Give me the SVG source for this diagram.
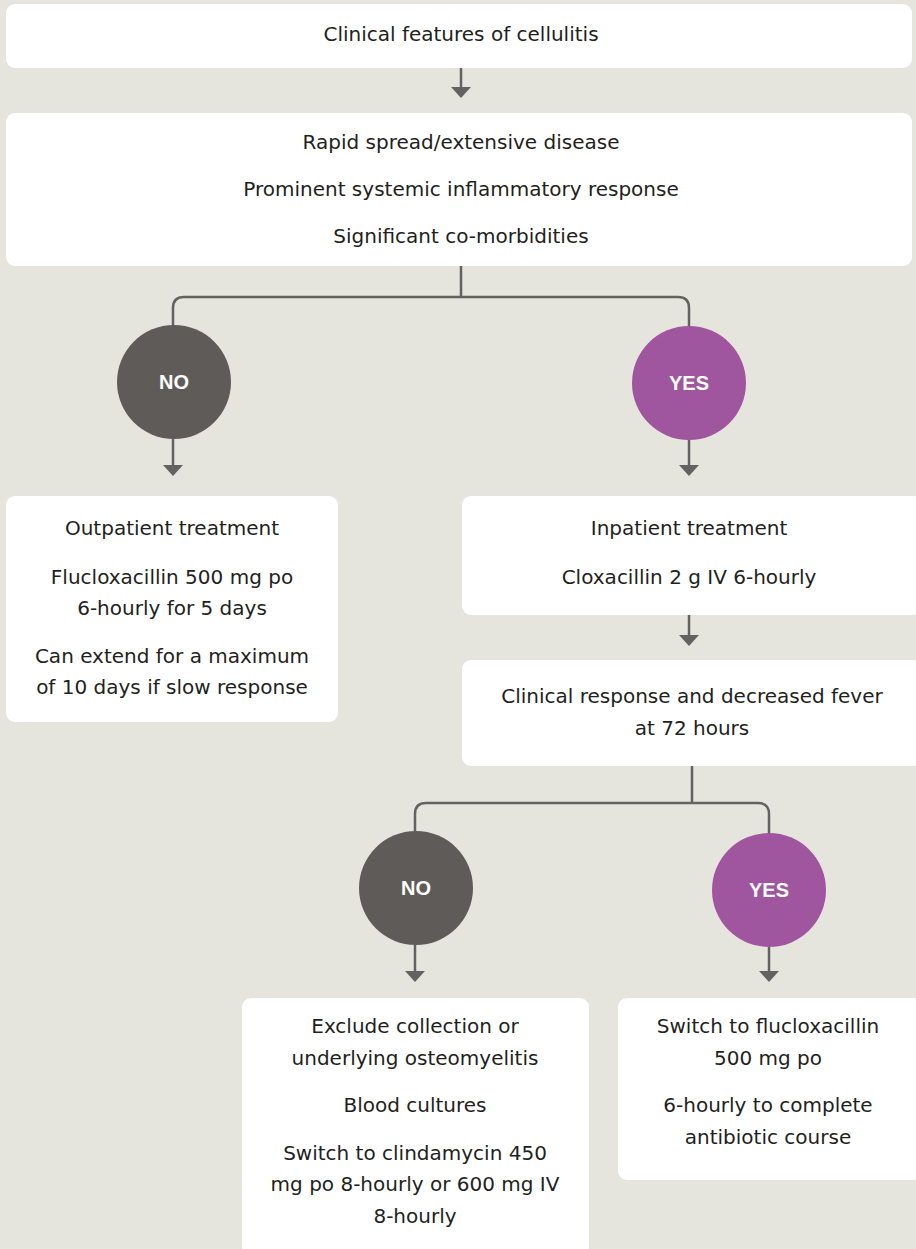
<svg xmlns="http://www.w3.org/2000/svg" width="916" height="1249" viewBox="0 0 916 1249">
<style>
.bg{fill:#e6e5dd}
.box{fill:#ffffff}
.t{font-family:"DejaVu Sans","Liberation Sans",sans-serif;font-size:20px;fill:#231f20;text-anchor:middle}
.c{font-family:"Liberation Sans",Arial,sans-serif;font-size:20px;font-weight:bold;fill:#ffffff;text-anchor:middle}
.ln{fill:none;stroke:#646260;stroke-width:2.5}
.ah{fill:#646260}
.no{fill:#5f5b59}
.yes{fill:#a0559f}
</style>
<rect class="bg" x="0" y="0" width="916" height="1249"/>
<g id="connectors">
<line class="ln" x1="461" y1="68" x2="461" y2="88"/><path class="ah" d="M451,87 L471,87 L461,98 Z"/>
<path class="ln" d="M461,266 V297 M461,297 H184 Q173,297 173,308 V326 M461,297 H678 Q689,297 689,308 V326"/>
<line class="ln" x1="173" y1="439" x2="173" y2="466"/><path class="ah" d="M163,465 L183,465 L173,476 Z"/>
<line class="ln" x1="689" y1="439" x2="689" y2="466"/><path class="ah" d="M679,465 L699,465 L689,476 Z"/>
<line class="ln" x1="689" y1="615" x2="689" y2="636"/><path class="ah" d="M679,635 L699,635 L689,646 Z"/>
<path class="ln" d="M692,766 V803 M692,803 H426 Q415,803 415,814 V832 M692,803 H758 Q769,803 769,814 V834"/>
<line class="ln" x1="415" y1="945" x2="415" y2="972"/><path class="ah" d="M405,971 L425,971 L415,982 Z"/>
<line class="ln" x1="769" y1="947" x2="769" y2="972"/><path class="ah" d="M759,971 L779,971 L769,982 Z"/>
</g>
<g id="n1">
<rect class="box" x="6" y="4" width="906" height="64" rx="9"/>
<text class="t" x="461" y="41">Clinical features of cellulitis</text>
</g>
<g id="n2">
<rect class="box" x="6" y="113" width="906" height="153" rx="9"/>
<text class="t" x="461" y="149">Rapid spread/extensive disease</text>
<text class="t" x="461" y="196">Prominent systemic inflammatory response</text>
<text class="t" x="461" y="243">Significant co-morbidities</text>
</g>
<g id="no1">
<circle class="no" cx="174" cy="382" r="57"/>
<text class="c" x="174" y="389">NO</text>
</g>
<g id="yes1">
<circle class="yes" cx="689" cy="383" r="57"/>
<text class="c" x="689" y="390">YES</text>
</g>
<g id="n3">
<rect class="box" x="6" y="496" width="332" height="226" rx="9"/>
<text class="t" x="172" y="535">Outpatient treatment</text>
<text class="t" x="172" y="584">Flucloxacillin 500 mg po</text>
<text class="t" x="172" y="615">6-hourly for 5 days</text>
<text class="t" x="172" y="663">Can extend for a maximum</text>
<text class="t" x="172" y="694">of 10 days if slow response</text>
</g>
<g id="n4">
<rect class="box" x="462" y="496" width="460" height="119" rx="9"/>
<text class="t" x="689" y="535">Inpatient treatment</text>
<text class="t" x="689" y="584">Cloxacillin 2 g IV 6-hourly</text>
</g>
<g id="n5">
<rect class="box" x="462" y="660" width="460" height="106" rx="9"/>
<text class="t" x="692" y="703">Clinical response and decreased fever</text>
<text class="t" x="692" y="735">at 72 hours</text>
</g>
<g id="no2">
<circle class="no" cx="416" cy="888" r="57"/>
<text class="c" x="416" y="895">NO</text>
</g>
<g id="yes2">
<circle class="yes" cx="769" cy="890" r="57"/>
<text class="c" x="769" y="897">YES</text>
</g>
<g id="n6">
<rect class="box" x="242" y="998" width="347" height="270" rx="9"/>
<text class="t" x="415" y="1033">Exclude collection or</text>
<text class="t" x="415" y="1065">underlying osteomyelitis</text>
<text class="t" x="415" y="1112">Blood cultures</text>
<text class="t" x="415" y="1160">Switch to clindamycin 450</text>
<text class="t" x="415" y="1191">mg po 8-hourly or 600 mg IV</text>
<text class="t" x="415" y="1223">8-hourly</text>
</g>
<g id="n7">
<rect class="box" x="618" y="998" width="304" height="182" rx="9"/>
<text class="t" x="768" y="1033">Switch to flucloxacillin</text>
<text class="t" x="768" y="1065">500 mg po</text>
<text class="t" x="768" y="1112">6-hourly to complete</text>
<text class="t" x="768" y="1144">antibiotic course</text>
</g>
</svg>
